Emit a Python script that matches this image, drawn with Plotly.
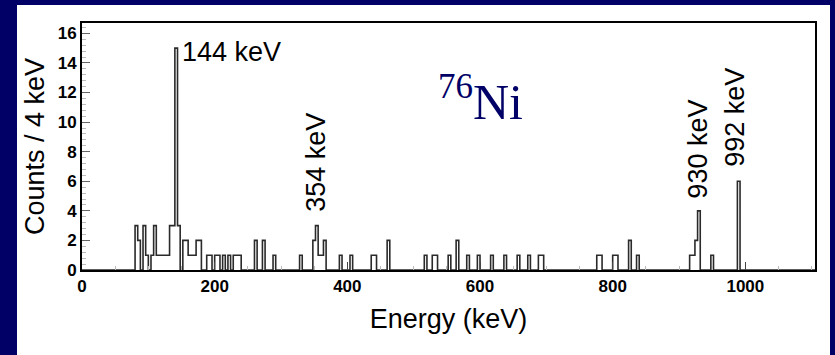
import numpy as np
import plotly.graph_objects as go

# Gamma spectrum of 76Ni, 4 keV bins: lower bin edge (keV) -> counts (only non-empty bins)
bin_width = 4
bin_edges_nonzero = [80, 84, 92, 96, 104, 108, 112, 116, 120, 124, 128, 132, 136, 140, 144,
                     152, 156, 160, 164, 168, 172, 176, 188, 192, 200, 204, 212, 220, 228, 232, 236,
                     260, 272, 288, 328, 348, 352, 356, 360, 364, 388, 404, 436, 440, 460,
                     516, 528, 532, 552, 564, 580, 596, 616, 636, 656, 672, 688, 692,
                     776, 780, 800, 804, 824, 836, 916, 920, 924, 928, 948, 988]
bin_counts_nonzero = [3, 2, 3, 1, 1, 3, 1, 1, 1, 1, 1, 3, 3, 15, 3,
                      2, 2, 1, 1, 1, 2, 2, 1, 1, 1, 1, 1, 1, 1, 1, 1,
                      2, 2, 1, 1, 2, 3, 1, 1, 2, 1, 1, 1, 1, 2,
                      1, 1, 1, 1, 2, 1, 1, 1, 1, 1, 1, 1, 1,
                      1, 1, 1, 1, 2, 1, 1, 1, 2, 4, 1, 6]

# Labelled transitions (keV)
peak_energies = [144, 354, 930, 992]

x_range = [0, 1105]
y_range = [0, 16.7]
x_ticks = [0, 200, 400, 600, 800, 1000]
y_ticks = [0, 2, 4, 6, 8, 10, 12, 14, 16]

# Full histogram over the axis range
edges = np.arange(0, 1104 + bin_width, bin_width)
counts = np.zeros(len(edges))
lookup = dict(zip(bin_edges_nonzero, bin_counts_nonzero))
for i, e in enumerate(edges):
    counts[i] = lookup.get(int(e), 0)
step_x = np.append(edges, edges[-1] + bin_width)
step_y = np.append(counts, counts[-1])

NAVY = "#000066"
FONT = "Liberation Sans, Arial, sans-serif"
LABEL_SIZE = 27

fig = go.Figure()
fig.add_trace(go.Scatter(
    x=step_x, y=step_y, mode="lines",
    line=dict(shape="hv", color="#2a2a2a", width=1.6),
    hoverinfo="skip", showlegend=False,
))

# Plot-area geometry in pixels (used to place the white panel)
W, H = 835, 355
ml, mr, mt, mb = 82, 20, 23, 85
pw, ph = W - ml - mr, H - mt - mb

def px_to_paper_x(px):
    return (px - ml) / pw

def px_to_paper_y(py):
    return (H - mb - py) / ph

fig.add_shape(type="rect", xref="paper", yref="paper", layer="below",
              x0=px_to_paper_x(17), x1=px_to_paper_x(830),
              y0=px_to_paper_y(360), y1=px_to_paper_y(5),
              fillcolor="white", line=dict(width=0))

annotations = []
# 144 keV: horizontal, right of the peak
annotations.append(dict(x=peak_energies[0], y=14.75, xref="x", yref="y",
                        text=f"{peak_energies[0]} keV", showarrow=False,
                        xanchor="left", yanchor="middle", xshift=2,
                        font=dict(family=FONT, size=LABEL_SIZE, color="black")))
# vertical labels
for e, yc, xs in [(peak_energies[1], 7.3, -1), (peak_energies[2], 8.2, -1), (peak_energies[3], 10.3, -5)]:
    annotations.append(dict(x=e, y=yc, xref="x", yref="y", text=f"{e} keV",
                            showarrow=False, textangle=-90, xshift=xs,
                            font=dict(family=FONT, size=LABEL_SIZE, color="black")))
# isotope tag
annotations.append(dict(x=600, y=11.6, xref="x", yref="y",
                        text="<sup>76</sup>Ni", showarrow=False,
                        font=dict(family="Liberation Serif, Times New Roman, serif", size=50, color=NAVY)))

fig.update_layout(
    width=W, height=H,
    margin=dict(l=ml, r=mr, t=mt, b=mb),
    paper_bgcolor=NAVY, plot_bgcolor="white",
    annotations=annotations,
    xaxis=dict(
        range=x_range, tickvals=x_ticks, ticktext=[str(v) for v in x_ticks],
        showline=True, linecolor="black", linewidth=2, mirror=True,
        ticks="inside", ticklen=8, tickcolor="#444", tickwidth=1,
        minor=dict(dtick=50, ticks="inside", ticklen=4, tickcolor="#bbb"),
        showgrid=False, zeroline=False,
        tickfont=dict(family=FONT, size=17, color="black", weight="bold"),
        title=dict(text="Energy (keV)", font=dict(family=FONT, size=LABEL_SIZE, color="black"), standoff=14),
    ),
    yaxis=dict(
        range=y_range, tickvals=y_ticks, ticktext=[str(v) for v in y_ticks],
        showline=True, linecolor="black", linewidth=2, mirror=True,
        ticks="inside", ticklen=8, tickcolor="#666", tickwidth=1,
        minor=dict(dtick=0.4, ticks="inside", ticklen=4, tickcolor="#bbb"),
        showgrid=False, zeroline=False,
        tickfont=dict(family=FONT, size=17, color="black", weight="bold"),
        title=dict(text="Counts / 4 keV", font=dict(family=FONT, size=LABEL_SIZE, color="black"), standoff=5),
    ),
)

fig.write_html("out.html")
